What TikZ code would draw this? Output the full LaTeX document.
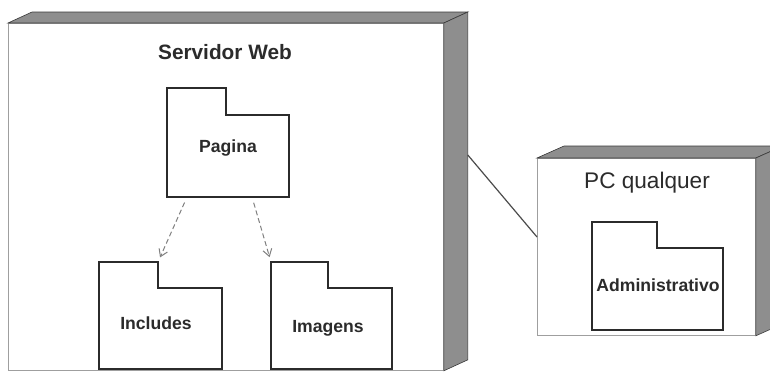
\documentclass[tikz,border=0pt]{standalone}
\usepackage{fontspec}
\setmainfont{Liberation Sans}
\usetikzlibrary{calc,arrows.meta}
\definecolor{shade}{HTML}{8E8E8E}
\definecolor{ink}{HTML}{2B2B2B}
\begin{document}
\begin{tikzpicture}[x=1pt,y=-1pt,
  front/.style={draw=gray!75, line width=0.8pt, fill=white, inner sep=0pt, anchor=north west},
  face/.style={fill=shade, draw=gray!45!black, line width=0.6pt},
  pkgpart/.style={inner sep=0pt, outer sep=0pt, anchor=north west},
  pkgline/.style={draw=ink, line width=1.6pt, fill=white, line join=miter},
  pkglabel/.style={font=\fontsize{17.6}{20}\selectfont\bfseries, text=ink},
  dep/.style={draw=gray, dash pattern=on 5pt off 3pt, line width=1pt,
    -{Straight Barb[length=7pt,width=9pt]}},
  link/.style={draw=ink!85, line width=1.2pt}]
\useasboundingbox (0,0) rectangle (770,373);
\clip (0,0) rectangle (770,373);

% ---- node: Servidor Web ----
\node[front, minimum width=435pt, minimum height=347pt] (srv) at (8,23) {};
\filldraw[face] (srv.north west) -- ++(24,-11) -- ($(srv.north east)+(24,-11)$)
  -- (srv.north east) -- cycle;
\filldraw[face] (srv.north east) -- ++(24,-11) -- ($(srv.south east)+(24,-11)$)
  -- (srv.south east) -- cycle;
\node[font=\fontsize{20.8}{24}\selectfont\bfseries, text=ink] (srvlabel) at (225,52) {Servidor Web};

% ---- node: PC qualquer ----
\node[front, minimum width=218pt, minimum height=177pt] (pc) at (537,158) {};
\filldraw[face] (pc.north west) -- ++(27,-12) -- ($(pc.north east)+(27,-12)$)
  -- (pc.north east) -- cycle;
\filldraw[face] (pc.north east) -- ++(27,-12) -- ($(pc.south east)+(27,-12)$)
  -- (pc.south east) -- cycle;
\node[font=\fontsize{22.6}{26}\selectfont, text=ink] (pclabel) at (647,183) {PC qualquer};

% ---- packages: folder outline made of tab + body ----
\newcommand{\pkgoutline}[2]{%
  \draw[pkgline] (#2.south west) -- (#1.north west) -- (#1.north east)
    -- (#1.south east) -- (#2.north east) -- (#2.south east) -- cycle;}

\node[pkgpart, minimum width=59pt, minimum height=27pt] (pagtab) at (167,88) {};
\node[pkgpart, minimum width=122pt, minimum height=82pt] (pagina) at (167,115) {};
\pkgoutline{pagtab}{pagina}
\node[pkglabel] (paglabel) at (228,148) {Pagina};

\node[pkgpart, minimum width=59pt, minimum height=26pt] (inctab) at (99,262) {};
\node[pkgpart, minimum width=123pt, minimum height=81pt] (includes) at (99,288) {};
\pkgoutline{inctab}{includes}
\node[pkglabel] (inclabel) at (156,323) {Includes};

\node[pkgpart, minimum width=57pt, minimum height=26pt] (imgtab) at (271,262) {};
\node[pkgpart, minimum width=121pt, minimum height=81pt] (imagens) at (271,288) {};
\pkgoutline{imgtab}{imagens}
\node[pkglabel] (imglabel) at (328,328) {Imagens};

\node[pkgpart, minimum width=65pt, minimum height=26pt] (admtab) at (592,222) {};
\node[pkgpart, minimum width=131pt, minimum height=82pt] (admin) at (592,248) {};
\pkgoutline{admtab}{admin}
\node[pkglabel] (admlabel) at (658,285) {Administrativo};

% ---- dependencies ----
\draw[dep, shorten <=6pt, shorten >=5pt] ($(pagina.south)+(-41,0)$) -- (inctab.north east);
\draw[dep, shorten <=6pt, shorten >=5pt] ($(pagina.south)+(24,0)$) -- (imgtab.north west);

% ---- communication link ----
\draw[link] ($(srv.north east)+(24,132)$) -- ($(pc.north west)+(0,79)$);
\end{tikzpicture}
\end{document}
